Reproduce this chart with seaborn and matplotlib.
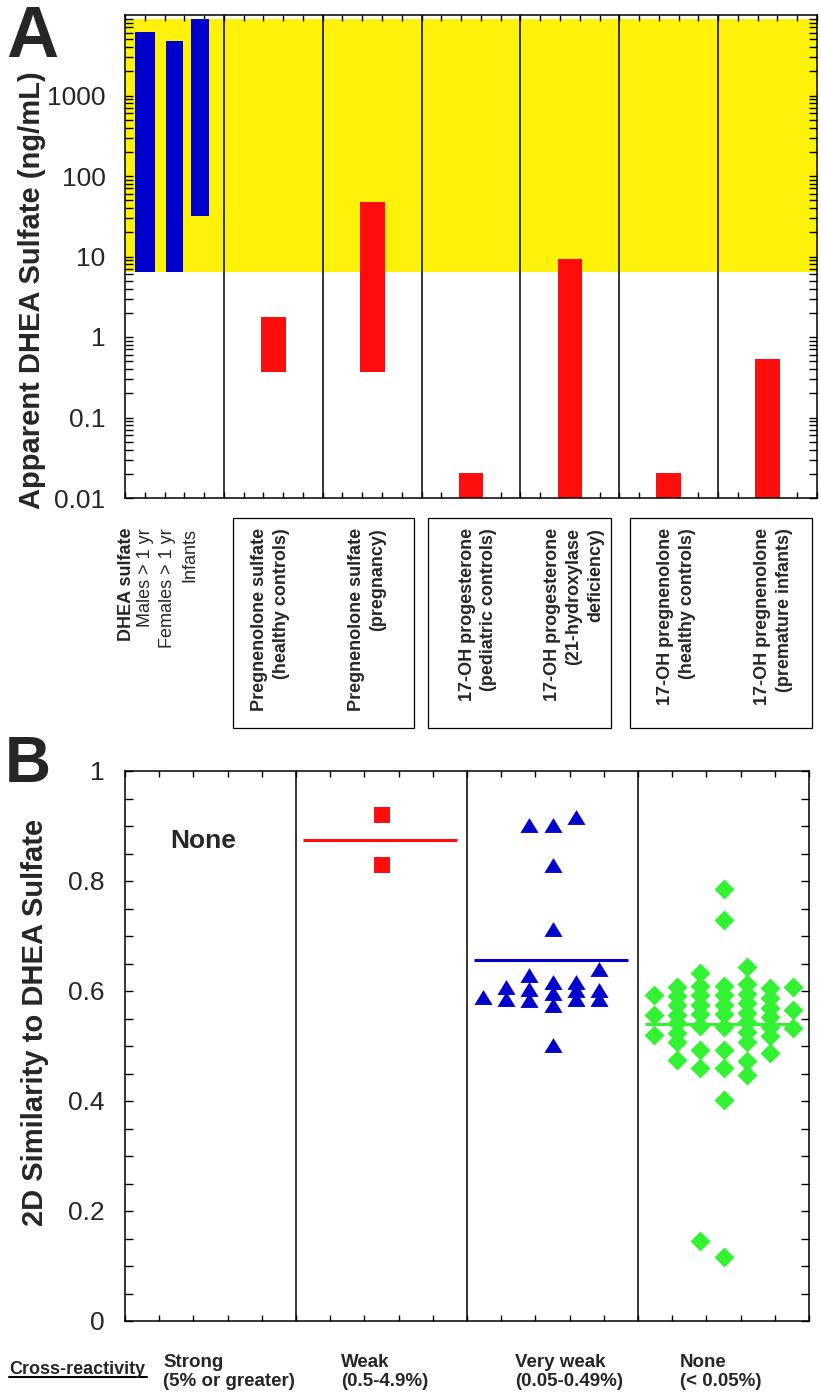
import numpy as np
import pandas as pd
import seaborn as sns
import matplotlib.pyplot as plt
import matplotlib.ticker as mticker
import matplotlib.transforms as mtransforms
from matplotlib.patches import Rectangle
from matplotlib.lines import Line2D
from matplotlib.path import Path

# ---- panel A data (apparent DHEA sulfate, ng/mL) ----
dhea_groups = ["Males > 1 yr", "Females > 1 yr", "Infants"]
dhea_low = [6.4, 6.4, 32]
dhea_high = [6150, 4780, 8900]
cross_groups = ["Pregnenolone sulfate\n(healthy controls)",
                "Pregnenolone sulfate\n(pregnancy)",
                "17-OH progesterone\n(pediatric controls)",
                "17-OH progesterone\n(21-hydroxylase\ndeficiency)",
                "17-OH pregnenolone\n(healthy controls)",
                "17-OH pregnenolone\n(premature infants)"]
cross_low = [0.37, 0.37, 0.01, 0.01, 0.01, 0.01]
cross_high = [1.78, 47.6, 0.0204, 9.3, 0.0202, 0.54]
band = [6.4, 8900]
ytick_vals = [0.01, 0.1, 1, 10, 100, 1000]
ytick_labels = ["0.01", "0.1", "1", "10", "100", "1000"]

# ---- panel B data (2D similarity) ----
categories = ["Strong", "Weak", "Very weak", "None"]
cat_ranges = ["(5% or greater)", "(0.5-4.9%)", "(0.05-0.49%)", "(< 0.05%)"]
weak_sim = [0.920, 0.829]
weak_col = [0, 0]
vweak_sim = [0.590,
             0.607, 0.585,
             0.902, 0.629, 0.603, 0.584,
             0.902, 0.829, 0.713, 0.616, 0.597, 0.575, 0.501,
             0.917, 0.616, 0.601, 0.585,
             0.640, 0.602, 0.585]
vweak_col = [-3,
             -2, -2,
             -1, -1, -1, -1,
             0, 0, 0, 0, 0, 0, 0,
             1, 1, 1, 1,
             2, 2, 2]
none_sim = [0.593, 0.556, 0.520,
            0.608, 0.591, 0.574, 0.557, 0.541, 0.524, 0.508, 0.475,
            0.632, 0.610, 0.592, 0.575, 0.558, 0.537, 0.493, 0.460, 0.145,
            0.785, 0.729, 0.610, 0.592, 0.575, 0.558, 0.535, 0.493, 0.460, 0.402, 0.116,
            0.643, 0.612, 0.595, 0.578, 0.560, 0.543, 0.525, 0.508, 0.472, 0.447,
            0.605, 0.588, 0.570, 0.553, 0.535, 0.518, 0.487,
            0.608, 0.566, 0.533]
none_col = [-3] * 3 + [-2] * 8 + [-1] * 9 + [0] * 11 + [1] * 10 + [2] * 7 + [3] * 3

BLUE = "#0000cc"
RED = "#ff0d0d"
GREEN = "#33f233"
YELLOW = "#fff20a"

sns.set_style("ticks")
plt.rcParams["font.family"] = ["Liberation Sans", "DejaVu Sans"]

W, H = 821, 1393
def fx(x):
    return x / W
def fy(y):
    return 1 - y / H

fig = plt.figure(figsize=(W / 100, H / 100), dpi=100)
axA = fig.add_axes([fx(125), fy(498), (817 - 125) / W, (498 - 15) / H])
axB = fig.add_axes([fx(125), fy(1321), (809 - 125) / W, (1321 - 771) / H])

# ---------------- panel A ----------------
axA.set_yscale("log")
axA.set_xlim(0, 35)
axA.set_ylim(0.01, 10000)
axA.axhspan(band[0], band[1], color=YELLOW, lw=0, zorder=0)

dhea_x = [1.0, 2.5, 3.8]
dhea_w = [1.0, 0.9, 0.9]
axA.bar(dhea_x, np.array(dhea_high) - np.array(dhea_low), bottom=dhea_low,
        width=dhea_w, color=BLUE, lw=0, zorder=2)
cross_x = [5 * (i + 1) + 2.5 for i in range(len(cross_groups))]
axA.bar(cross_x, np.array(cross_high) - np.array(cross_low), bottom=cross_low,
        width=1.25, color=RED, lw=0, zorder=2)

for xv in range(5, 35, 5):
    axA.axvline(xv, color="black", lw=1.1, zorder=3)

axA.set_yticks(ytick_vals, ytick_labels)
axA.yaxis.set_minor_locator(mticker.LogLocator(base=10, subs=np.arange(2, 10)))
axA.yaxis.set_minor_formatter(mticker.NullFormatter())
axA.set_xticks(np.arange(0, 36, 1))
axA.tick_params(axis="both", which="both", direction="in", top=True, right=True,
                color="black", width=1.0)
axA.tick_params(axis="y", which="both", length=6, labelsize=19, pad=14)
axA.tick_params(axis="x", length=4, labelbottom=False)
for sp in axA.spines.values():
    sp.set_color("black")
    sp.set_linewidth(1.1)

trA = mtransforms.blended_transform_factory(axA.transData, axA.transAxes)
label_top = -0.062
axA.text(0.1, label_top, "DHEA sulfate", transform=trA, rotation=90, ha="center",
         va="top", fontsize=13, fontweight="bold", clip_on=False)
dhea_label_x = [1.05, 2.15, 3.3]
for xl, name in zip(dhea_label_x, dhea_groups):
    axA.text(xl, label_top, name, transform=trA, rotation=90, ha="center",
             va="top", fontsize=13, clip_on=False)

cross_label_x = [7.35, 12.25, 17.85, 22.7, 27.9, 32.8]
for xl, name in zip(cross_label_x, cross_groups):
    axA.text(xl, label_top, name, transform=trA, rotation=90, ha="center",
             va="top", multialignment="right", fontsize=13, fontweight="bold",
             linespacing=1.35, clip_on=False)

for x0, x1 in [(5.45, 14.63), (15.33, 24.58), (25.54, 34.75)]:
    axA.add_patch(Rectangle((x0, -0.476), x1 - x0, 0.435, transform=trA,
                            fill=False, ec="black", lw=0.9, clip_on=False))

# ---------------- panel B ----------------
centers = [2.5, 7.5, 12.5, 17.5]
spacing = 0.675
tri = Path([(-1, -0.82), (1, -0.82), (0, 0.82), (-1, -0.82)],
           [Path.MOVETO, Path.LINETO, Path.LINETO, Path.CLOSEPOLY])

df_w = pd.DataFrame({"sim": weak_sim, "col": weak_col})
df_w["x"] = centers[1] + df_w["col"] * spacing
df_v = pd.DataFrame({"sim": vweak_sim, "col": vweak_col})
df_v["x"] = centers[2] + df_v["col"] * spacing
df_n = pd.DataFrame({"sim": none_sim, "col": none_col})
df_n["x"] = centers[3] + df_n["col"] * spacing

sns.scatterplot(data=df_w, x="x", y="sim", marker="s", s=117, color=RED,
                linewidth=0, ax=axB, legend=False, zorder=3)
sns.scatterplot(data=df_v, x="x", y="sim", marker=tri, s=170, color=BLUE,
                linewidth=0, ax=axB, legend=False, zorder=3)
sns.scatterplot(data=df_n, x="x", y="sim", marker="D", s=104, color=GREEN,
                linewidth=0, ax=axB, legend=False, zorder=3)

for c, d, col in [(centers[1], df_w, RED), (centers[2], df_v, BLUE),
                  (centers[3], df_n, GREEN)]:
    axB.hlines(d["sim"].mean(), c - 2.3, c + 2.2, color=col, lw=2.2, zorder=4)

for xv in [5, 10, 15]:
    axB.axvline(xv, color="black", lw=1.1, zorder=2)

axB.text(1.32, 0.86, "None", fontsize=19, fontweight="bold", ha="left",
         va="baseline")

axB.set_xlim(0, 20)
axB.set_ylim(0, 1)
axB.set_xticks(np.arange(0, 21, 1))
axB.set_yticks([0, 0.2, 0.4, 0.6, 0.8, 1.0], ["0", "0.2", "0.4", "0.6", "0.8", "1"])
axB.yaxis.set_minor_locator(mticker.MultipleLocator(0.05))
axB.tick_params(axis="both", which="both", direction="in", top=True, right=True,
                color="black", width=1.0)
axB.tick_params(axis="y", which="both", length=6, labelsize=19, pad=15)
axB.tick_params(axis="x", length=4, labelbottom=False)
axB.set_xlabel("")
axB.set_ylabel("")
for sp in axB.spines.values():
    sp.set_color("black")
    sp.set_linewidth(1.1)

# ---------------- figure text ----------------
fig.text(fx(6), fy(57), "A", fontsize=52, fontweight="bold", ha="left", va="baseline")
fig.text(fx(5), fy(782), "B", fontsize=46, fontweight="bold", ha="left", va="baseline")
fig.text(fx(32), fy(290), "Apparent DHEA Sulfate (ng/mL)", rotation=90,
         fontsize=21, fontweight="bold", ha="center", va="center")
fig.text(fx(35), fy(1022), "2D Similarity to DHEA Sulfate", rotation=90,
         fontsize=21, fontweight="bold", ha="center", va="center")

fig.text(fx(9), fy(1374), "Cross-reactivity", fontsize=13, fontweight="bold",
         ha="left", va="baseline")
fig.add_artist(Line2D([fx(9), fx(147)], [fy(1377), fy(1377)], color="black", lw=1.5))
cat_left = [163, 341, 515, 680]
for xl, name, rng in zip(cat_left, categories, cat_ranges):
    fig.text(fx(xl), fy(1367), name, fontsize=13.5, fontweight="bold",
             ha="left", va="baseline")
    fig.text(fx(xl), fy(1386), rng, fontsize=13.5, fontweight="bold",
             ha="left", va="baseline")

fig.savefig("out.png", dpi=100)
